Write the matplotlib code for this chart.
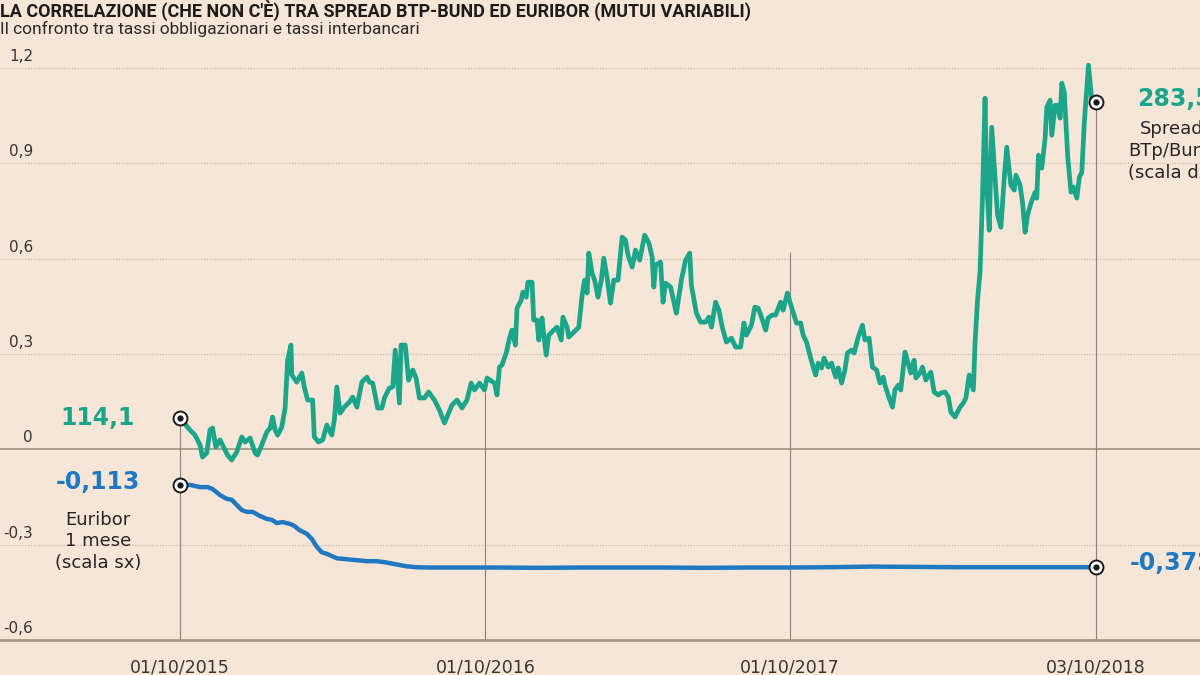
"""
Spread BTP-Bund ed Euribor 1 mese, ottobre 2015 - ottobre 2018
"""
# IMPORTS
import matplotlib
matplotlib.use("Agg")
import matplotlib.pyplot as plt
import matplotlib.transforms as mtransforms
import pandas as pd

from matplotlib import font_manager

# VARIABLES
start_date = pd.Timestamp("2015-10-01")

# spread BTP-Bund (punti base), giorni dal 01/10/2015
spread_days = [0, 12, 18, 24, 27, 32, 36, 39, 43, 48, 51, 57, 62, 68, 74, 78, 84, 90, 93, 98,
               104, 108, 111, 114, 117, 122, 126, 129, 133, 134, 140, 146, 149, 153, 159, 161,
               166, 171, 176, 182, 185, 188, 192, 197, 203, 207, 212, 218, 224, 227, 231, 237,
               242, 245, 251, 255, 258, 263, 265, 270, 274, 279, 283, 287, 293, 298, 305, 311,
               317, 322, 326, 332, 338, 344, 349, 353, 359, 365, 368, 377,
               380, 383, 386, 391, 395, 398, 402, 404, 409, 411, 415, 417, 422, 424, 428, 430,
               434, 436, 439, 442, 448, 452, 457, 459, 464, 466, 472, 478, 482, 485, 488, 490,
               494, 497, 501, 505, 508, 512, 516, 520, 525, 530, 534, 537, 542, 546, 551, 557,
               562, 566, 568, 570, 576, 579, 582, 588, 592, 595, 601, 606, 611, 613, 619, 624,
               630, 634, 637, 642, 646, 650, 655, 661, 666, 672, 676, 679, 685, 689, 693, 697,
               702, 705, 710, 714, 720, 723, 728, 733, 739,
               744, 747, 751, 756, 759, 762, 765, 769, 772, 777, 781, 786, 789, 793, 797, 800,
               805, 808, 813, 818, 821, 826, 830, 835, 839, 843, 845, 850, 854, 857, 861, 864,
               869, 874, 876, 880, 882, 887, 890, 894, 900, 904, 909, 912, 917, 921, 924, 929,
               935, 939, 942, 946, 951, 953, 956, 959,
               962, 965, 967, 970, 973, 977, 980, 984, 988, 991, 996, 1000, 1002, 1007, 1010,
               1013, 1016, 1020, 1025, 1027, 1029, 1033, 1037, 1039, 1043, 1045, 1049, 1052,
               1055, 1057, 1060, 1064, 1068, 1071, 1075, 1078, 1081, 1084, 1089, 1093, 1098]
spread_vals = [114.1, 107.7, 105.0, 99.7, 93.2, 95.4, 107.7, 108.8, 98.6, 102.4, 99.7, 94.3,
               91.6, 95.9, 104.0, 101.3, 103.4, 95.4, 94.3, 99.7, 106.6, 108.8, 114.7, 107.7,
               105.0, 109.3, 119.5, 145.2, 153.3, 137.2, 133.4, 138.3, 130.8, 123.8, 123.8,
               104.0, 101.3, 102.4, 110.4, 105.0, 113.1, 130.8, 116.8, 120.0, 122.7, 125.4,
               120.0, 133.4, 136.1, 133.4, 132.9, 119.5, 119.5, 124.9, 130.2, 130.8, 150.6,
               122.2, 153.3, 153.3, 134.5, 139.9, 135.6, 124.9, 124.9, 128.1, 123.8, 118.4,
               111.5, 116.8, 121.1, 123.8, 119.5, 123.8, 132.9, 129.2, 132.9, 129.2, 135.6,
               132.9,
               126.5, 141.5, 142.6, 149.0, 157.0, 161.3, 153.3, 173.1, 177.4, 181.7, 179.0,
               187.0, 187.0, 166.7, 166.7, 156.0, 167.8, 158.6, 147.9, 158.6, 161.3, 162.9,
               156.0, 168.3, 162.9, 157.6, 160.2, 162.9, 180.1, 188.1, 181.2, 202.6, 191.9,
               188.1, 179.0, 188.1, 199.9, 189.2, 175.8, 188.1, 188.1, 211.2, 209.6, 201.5,
               195.1, 204.2, 198.8, 212.2, 208.0, 200.4, 184.4, 196.2, 197.8, 176.3, 186.5,
               184.4, 176.3, 170.4, 188.1, 198.8, 202.6, 185.4, 170.4, 165.6, 165.6, 168.3,
               162.9, 176.3, 172.0, 162.9, 154.9, 157.0, 152.2, 152.2, 165.1, 158.6, 164.0,
               173.6, 173.1, 168.3, 161.3, 167.8, 169.4, 169.4, 176.3, 172.0, 181.2, 173.6,
               165.1,
               165.1, 158.6, 154.9, 146.3, 141.5, 137.2, 143.6, 141.0, 146.3, 141.5, 143.6,
               136.1, 141.0, 132.9, 139.9, 149.0, 150.6, 149.0, 157.6, 164.0, 156.0, 157.0,
               141.5, 139.9, 132.9, 136.1, 131.8, 124.9, 120.0, 129.2, 131.8, 129.2, 149.5,
               141.5, 138.3, 145.2, 135.6, 138.3, 141.5, 134.5, 138.8, 128.1, 126.5, 127.6,
               128.1, 125.4, 117.4, 114.7, 120.0, 122.2, 124.9, 137.2, 129.2, 154.4, 177.4,
               192.4,
               233.7, 285.7, 240.6, 214.9, 270.1, 242.8, 223.0, 216.5, 242.8, 259.4, 239.0,
               236.4, 244.4, 239.0, 229.4, 213.8, 223.0, 229.4, 235.3, 232.1, 255.1, 248.2,
               264.2, 280.8, 284.6, 265.8, 281.9, 281.9, 275.0, 293.7, 288.9, 255.1, 235.3,
               238.0, 232.1, 243.3, 246.0, 272.8, 303.4, 284.0, 283.5]

# Euribor 1 mese (%), giorni dal 01/10/2015
euribor_days = [0, 12, 24, 33, 39, 48, 56, 62, 68, 74, 80, 87, 96, 104, 110, 116, 123, 132,
                137, 143, 152, 158, 164, 170, 177, 188, 200, 212, 224, 236, 247, 259, 271,
                283, 299, 330, 380, 430, 480, 530, 580, 630, 680, 730, 780, 830, 880, 930,
                980, 1030, 1060, 1098]
euribor_vals = [-0.113, -0.112, -0.119, -0.119, -0.125, -0.144, -0.156, -0.159, -0.175,
                -0.191, -0.197, -0.197, -0.210, -0.219, -0.222, -0.232, -0.229, -0.235,
                -0.241, -0.254, -0.266, -0.282, -0.307, -0.324, -0.330, -0.343, -0.346,
                -0.349, -0.352, -0.352, -0.356, -0.362, -0.368, -0.371, -0.372, -0.372,
                -0.372, -0.373, -0.372, -0.372, -0.372, -0.373, -0.372, -0.372, -0.371,
                -0.369, -0.370, -0.371, -0.371, -0.371, -0.371, -0.371]

x_tick_dates = ["2015-10-01", "2016-10-01", "2017-10-01", "2018-10-03"]
x_tick_labels = ["01/10/2015", "01/10/2016", "01/10/2017", "03/10/2018"]
y_ticks = [1.2, 0.9, 0.6, 0.3, 0, -0.3, -0.6]
y_tick_labels = ["1,2", "0,9", "0,6", "0,3", "0", "-0,3", "-0,6"]

spread_start_label = "114,1"
spread_end_label = "283,5"
euribor_start_label = "-0,113"
euribor_end_label = "-0,372"

title = "LA CORRELAZIONE (CHE NON C'È) TRA SPREAD BTP-BUND ED EURIBOR (MUTUI VARIABILI)"
subtitle = "Il confronto tra tassi obbligazionari e tassi interbancari"

# Colours
BG = "#f5e6d7"
GREEN = "#1ba68b"
BLUE = "#1f79c2"
TEXT = "#2a2522"
GRID = "#cbbcad"
AXIS = "#a89886"

# Fonts
available = {f.name for f in font_manager.fontManager.ttflist}
TITLE_FONT = "Roboto" if "Roboto" in available else "DejaVu Sans"
NUM_FONT = "DejaVu Sans"

# EXECUTION
spread_dates = start_date + pd.to_timedelta(spread_days, unit="D")
euribor_dates = start_date + pd.to_timedelta(euribor_days, unit="D")
tick_dates = pd.to_datetime(x_tick_dates)

fig = plt.figure(figsize=(12, 6.75), dpi=100, facecolor=BG)
ax = fig.add_axes([0, 35 / 675, 1, 590 / 675])
ax.set_facecolor(BG)

# left scale -0.6 .. 1.256, right scale (spread) mapped onto it
y_lo, y_hi = -0.6, 1.256
ax.set_ylim(y_lo, y_hi)
days_per_px = 1098 / 916
ax.set_xlim(start_date - pd.Timedelta(days=180 * days_per_px),
            start_date + pd.Timedelta(days=1020 * days_per_px))

ax2 = ax.twinx()
ax2.set_ylim(97.4 + 170.5 * y_lo, 97.4 + 170.5 * y_hi)

# grid
for v in y_ticks:
    if v == 0:
        ax.axhline(v, color=AXIS, lw=1.3, zorder=1)
    elif v == -0.6:
        continue
    else:
        ax.axhline(v, color=GRID, lw=0.9, ls=(0, (1, 1.2)), zorder=1)

blend = mtransforms.blended_transform_factory(ax.transAxes, ax.transData)
trans_lbl = mtransforms.offset_copy(blend, fig=fig, x=0, y=5, units="points")
for v, lab in zip(y_ticks, y_tick_labels):
    ax.text(33 / 1200, v, lab, transform=trans_lbl, ha="right", va="baseline",
            fontsize=11, color="#3a3431", family=NUM_FONT)

# vertical drop lines
drop_tops = [(114.1 - 97.4) / 170.5, 0.18, 0.62, (283.5 - 97.4) / 170.5]
ax.vlines(tick_dates, y_lo, drop_tops, color="#8c8279", lw=0.8, zorder=1)

# series
ax.plot(euribor_dates, euribor_vals, color=BLUE, lw=3.2, solid_capstyle="round", zorder=3)
ax2.plot(spread_dates, spread_vals, color=GREEN, lw=3.4, solid_joinstyle="round", zorder=3)

# end markers
for a, dates, vals in [(ax, euribor_dates, euribor_vals), (ax2, spread_dates, spread_vals)]:
    xs = [dates[0], dates[-1]]
    ys = [vals[0], vals[-1]]
    a.plot(xs, ys, "o", ms=10, mfc="white", mec="#1a1a1a", mew=1.4, zorder=5)
    a.plot(xs, ys, "o", ms=3.5, color="#1a1a1a", zorder=6)

# axes styling
for a in (ax, ax2):
    for s in ("top", "left", "right"):
        a.spines[s].set_visible(False)
    a.set_yticks([])
ax2.spines["bottom"].set_visible(False)
ax.spines["bottom"].set_color(AXIS)
ax.spines["bottom"].set_linewidth(2)
ax.set_xticks(tick_dates)
ax.set_xticklabels(x_tick_labels, fontsize=12.5, color="#3a3431", family=NUM_FONT)
ax.tick_params(axis="x", length=0, pad=13)

# annotations
ax.text(98 / 1200, 0.097, spread_start_label, transform=blend,
        ha="center", va="center", fontsize=17, fontweight="bold", color=GREEN, family=NUM_FONT)
ax.text(98 / 1200, -0.103, euribor_start_label, transform=blend,
        ha="center", va="center", fontsize=17, fontweight="bold", color=BLUE, family=NUM_FONT)
ax.text(98 / 1200, -0.29, "Euribor\n1 mese\n(scala sx)", transform=blend,
        ha="center", va="center", fontsize=13, color=TEXT, family=NUM_FONT, linespacing=1.25)

fig.text(1137 / 1200, 1 - 99 / 675, spread_end_label, ha="left", va="center",
         fontsize=17, fontweight="bold", color=GREEN, family=NUM_FONT)
fig.text(1172 / 1200, 1 - 151 / 675, "Spread\nBTp/Bund\n(scala dx)", ha="center", va="center",
         fontsize=13, color=TEXT, family=NUM_FONT, linespacing=1.25)
fig.text(1130 / 1200, 1 - 563 / 675, euribor_end_label, ha="left", va="center",
         fontsize=17, fontweight="bold", color=BLUE, family=NUM_FONT)

fig.text(0.0, 1 - 17 / 675, title, ha="left", va="baseline", fontsize=13, fontweight="bold",
         color="#1f1b19", family=TITLE_FONT)
fig.text(0.0, 1 - 34 / 675, subtitle, ha="left", va="baseline", fontsize=12.5,
         color="#2f2a27", family=TITLE_FONT)

# OUTPUT
fig.savefig("out.png", dpi=100, facecolor=BG)

# END OF FILE
